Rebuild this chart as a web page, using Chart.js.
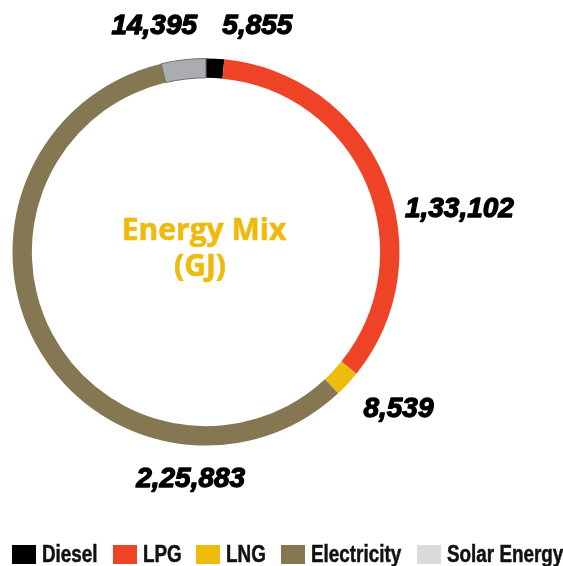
<!DOCTYPE html>
<html lang="en">
<head>
<meta charset="utf-8">
<title>Energy Mix (GJ)</title>
<script src="https://cdn.jsdelivr.net/npm/chart.js@4.4.1/dist/chart.umd.min.js"></script>
<style>
    html, body {
        margin: 0;
        padding: 0;
        background: #ffffff;
    }
    .chart-wrap {
        position: relative;
        width: 563px;
        height: 566px;
    }
    .legend {
        position: absolute;
        left: 12px;
        top: 545px;
        display: flex;
        align-items: center;
        gap: 15px;
        font-family: 'Liberation Sans', Arial, sans-serif;
        font-weight: bold;
        font-size: 23px;
        line-height: 19px;
        color: #111111;
        -webkit-text-stroke: 0.5px #111111;
        white-space: nowrap;
    }
    .legend-item {
        display: flex;
        align-items: center;
    }
    .legend-box {
        width: 24px;
        height: 19px;
        margin-right: 6px;
    }
    .legend-text {
        display: inline-block;
        overflow: visible;
    }
    .legend-text span {
        display: inline-block;
        transform: scaleX(0.82);
        transform-origin: left center;
    }
</style>
</head>
<body>
<div class="chart-wrap">
    <canvas id="energyChart"></canvas>
    <div class="legend" id="legend"></div>
</div>

<script>
// Chart data (GJ)
const categories = ['Diesel', 'LPG', 'LNG', 'Electricity', 'Solar Energy'];
const energyValues = [5855, 133102, 8539, 225883, 14395];

// Colours
const sliceColors = ['#000000', '#ee4326', '#edbc0c', '#857752', '#abacb0'];
const legendColors = ['#000000', '#ee4326', '#edbc0c', '#857752', '#d9dadb'];
const centerTitle = ['Energy Mix', '(GJ)'];

// Where each value label sits: angle from 12 o'clock (deg) and distance in outer radii
const labelPlacement = [
    { angle: 12.7, dist: 1.207 },
    { angle: 80, dist: 1.33 },
    { angle: 128.8, dist: 1.276 },
    { angle: 183.9, dist: 1.165 },
    { angle: 347.2, dist: 1.208 }
];

const NARROW = 0.82;

document.addEventListener('DOMContentLoaded', function() {
    buildLegend();
    drawChart();
});

// Indian digit grouping, e.g. 133102 -> 1,33,102
function formatIndian(n) {
    const s = String(Math.round(n));
    if (s.length <= 3) return s;
    const last3 = s.slice(-3);
    let rest = s.slice(0, -3);
    const parts = [];
    while (rest.length > 2) {
        parts.unshift(rest.slice(-2));
        rest = rest.slice(0, -2);
    }
    if (rest.length) parts.unshift(rest);
    return parts.join(',') + ',' + last3;
}

// HTML legend along the bottom (text squeezed to a narrow face)
function buildLegend() {
    const legend = document.getElementById('legend');
    categories.forEach((name, i) => {
        const item = document.createElement('div');
        item.className = 'legend-item';
        item.innerHTML = `<span class="legend-box" style="background:${legendColors[i]}"></span><span class="legend-text"><span>${name}</span></span>`;
        legend.appendChild(item);
        const outer = item.querySelector('.legend-text');
        const inner = outer.firstChild;
        outer.style.width = (inner.offsetWidth * NARROW) + 'px';
    });
}

// Value labels round the ring
const valueLabels = {
    id: 'valueLabels',
    afterDatasetsDraw(chart) {
        const ctx = chart.ctx;
        const arcs = chart.getDatasetMeta(0).data;
        ctx.save();
        ctx.fillStyle = '#000000';
        ctx.strokeStyle = '#000000';
        ctx.lineWidth = 1.3;
        ctx.lineJoin = 'round';
        ctx.font = 'italic bold 28px "Liberation Sans", Arial, sans-serif';
        ctx.textAlign = 'center';
        ctx.textBaseline = 'alphabetic';
        arcs.forEach((arc, i) => {
            const p = labelPlacement[i];
            const a = p.angle * Math.PI / 180;
            const r = arc.outerRadius * p.dist;
            const x = arc.x + Math.sin(a) * r;
            const y = arc.y - Math.cos(a) * r;
            const txt = formatIndian(energyValues[i]);
            ctx.fillText(txt, x, y + 10);
            ctx.strokeText(txt, x, y + 10);
        });
        ctx.restore();
    }
};

// Title in the hole of the doughnut
const centerText = {
    id: 'centerText',
    afterDatasetsDraw(chart) {
        const ctx = chart.ctx;
        const arc = chart.getDatasetMeta(0).data[0];
        ctx.save();
        ctx.fillStyle = '#efba0f';
        ctx.strokeStyle = '#efba0f';
        ctx.lineWidth = 0.6;
        ctx.font = 'bold 30px "Open Sans", sans-serif';
        ctx.textAlign = 'center';
        ctx.textBaseline = 'alphabetic';
        ctx.fillText(centerTitle[0], arc.x - 2, arc.y - 12);
        ctx.strokeText(centerTitle[0], arc.x - 2, arc.y - 12);
        ctx.fillText(centerTitle[1], arc.x - 6, arc.y + 24);
        ctx.strokeText(centerTitle[1], arc.x - 6, arc.y + 24);
        ctx.restore();
    }
};

function drawChart() {
    const ctx = document.getElementById('energyChart');
    new Chart(ctx, {
        type: 'doughnut',
        data: {
            labels: categories,
            datasets: [{
                data: energyValues,
                backgroundColor: sliceColors,
                borderWidth: [0, 0, 0, 0, 1],
                borderColor: ['#000000', '#ee4326', '#edbc0c', '#857752', '#6f6f72']
            }]
        },
        options: {
            responsive: true,
            maintainAspectRatio: false,
            animation: false,
            cutout: '90%',
            rotation: 0,
            layout: {
                padding: { left: 12, right: 163, top: 58, bottom: 120 }
            },
            plugins: {
                legend: { display: false },
                tooltip: { enabled: false }
            }
        },
        plugins: [valueLabels, centerText]
    });
}
</script>
</body>
</html>
